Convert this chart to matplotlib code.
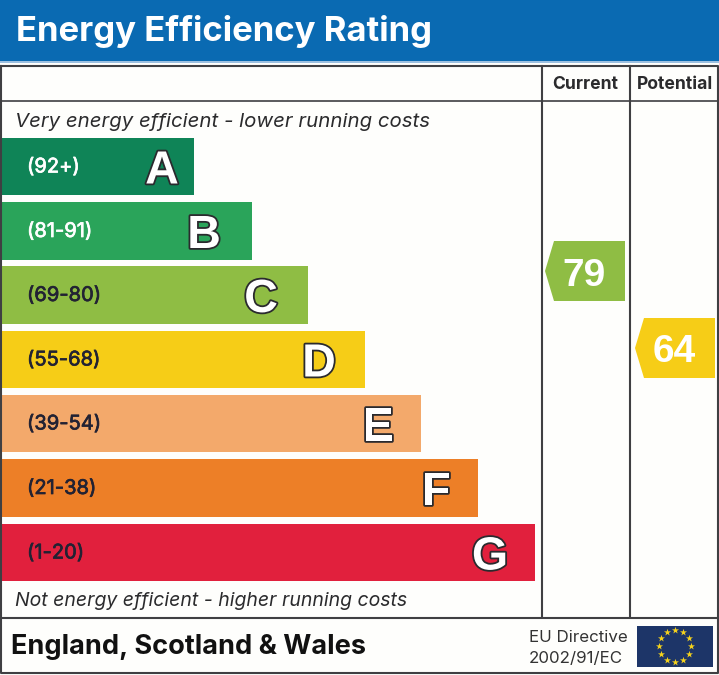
import numpy as np
import matplotlib
matplotlib.use("Agg")
import matplotlib.pyplot as plt
import matplotlib.patheffects as pe
from matplotlib.patches import Rectangle, Polygon

plt.rcParams['font.family'] = ['Liberation Sans', 'DejaVu Sans']
WIDE = ['Inter', 'Liberation Sans']

bands = ["A", "B", "C", "D", "E", "F", "G"]
ranges = ["(92+)", "(81-91)", "(69-80)", "(55-68)", "(39-54)", "(21-38)", "(1-20)"]
bar_right = [194, 252, 308, 365, 421, 478, 535]
bar_top = [138, 202, 266, 331, 395, 459, 524]
bar_bottom = [195, 260, 324, 388, 452, 517, 581]
colors = ["#0f8457", "#2aa45a", "#8fbd44", "#f6cd17", "#f3a96b", "#ed7f27", "#e1203d"]
range_colors = ["white", "white", "#222233", "#222233", "#222233", "#222233", "#222233"]
letter_inset = [32, 48, 47, 46, 43, 42, 45]
current = 79
potential = 64
line_col = "#3f3f42"

fig = plt.figure(figsize=(7.19, 6.75), dpi=100, facecolor="#fefefc")
ax = fig.add_axes([0, 0, 1, 1])
ax.set_xlim(0, 719)
ax.set_ylim(675, 0)
ax.axis("off")

# header band
ax.add_patch(Rectangle((0, 0), 719, 61, fc="#0a6ab2", ec="none"))
ax.add_patch(Rectangle((0, 61), 719, 2, fc="#9cc0e0", ec="none"))
ax.text(16, 41, "Energy Efficiency Rating", color="white", fontsize=25, fontweight="bold",
        va="baseline", ha="left", family=WIDE)

# frame
ax.plot([1, 718, 718, 1, 1], [66, 66, 673, 673, 66], color=line_col, lw=1.5)
ax.plot([1, 718], [101, 101], color=line_col, lw=1.2)
ax.plot([1, 718], [617.5, 617.5], color=line_col, lw=1.5)
ax.plot([542, 542], [66, 617], color=line_col, lw=1.5)
ax.plot([630, 630], [66, 617], color=line_col, lw=1.5)

ax.text(585, 89, "Current", color="#2b2b2d", fontsize=12.6, fontweight="bold", ha="center",
        va="baseline", family=WIDE)
ax.text(674.5, 89, "Potential", color="#2b2b2d", fontsize=12.6, fontweight="bold", ha="center",
        va="baseline", family=WIDE)
ax.text(15, 127, "Very energy efficient - lower running costs", color="#2b2b2d", fontsize=14.7,
        style="italic", va="baseline", family=WIDE)
ax.text(15, 606, "Not energy efficient - higher running costs", color="#2b2b2d", fontsize=14,
        style="italic", va="baseline", family=WIDE)

# bands
for i in range(len(bands)):
    top, bot, right = bar_top[i], bar_bottom[i], bar_right[i]
    ax.add_patch(Rectangle((2, top), right - 2, bot - top, fc=colors[i], ec="none"))
    mid = (top + bot) / 2
    r = ax.text(27, mid + 6, ranges[i], color=range_colors[i], fontsize=14.5, va="baseline", ha="left",
                family=WIDE)
    r.set_path_effects([pe.withStroke(linewidth=0.5, foreground=range_colors[i])])
    t = ax.text(right - letter_inset[i], mid + 17, bands[i], color="white", fontsize=33.5,
                fontweight="bold", va="baseline", ha="center")
    t.set_path_effects([pe.withStroke(linewidth=2.6, foreground="#2a2a2e")])


def tag(x0, x1, y0, y1, color, value):
    midy = (y0 + y1) / 2
    ax.add_patch(Polygon([(x0, midy), (x0 + 9, y0), (x1, y0), (x1, y1), (x0 + 9, y1)],
                         closed=True, fc=color, ec="none"))
    ax.text((x0 + x1) / 2 - 0.5, midy + 14.5, str(value), color="white", fontsize=28, fontweight="bold",
            ha="center", va="baseline")


tag(545, 625, 241, 301, colors[2], current)
tag(635, 715, 318, 378, colors[3], potential)

# footer
ax.text(11, 654, "England, Scotland & Wales", color="#111111", fontsize=19.5, fontweight="bold",
        va="baseline", family=WIDE)
ax.text(529, 642, "EU Directive", color="#333333", fontsize=12.2, va="baseline", family=WIDE)
ax.text(529, 663, "2002/91/EC", color="#333333", fontsize=12.2, va="baseline", family=WIDE)

# EU flag
ax.add_patch(Rectangle((637, 626), 75.5, 41, fc="#1d3568", ec="none"))
ang = np.arange(12) * np.pi / 6
ax.scatter(675 + 16 * np.sin(ang), 646 - 16 * np.cos(ang), marker="*", s=28, color="#f6d31c",
           linewidths=0, zorder=3)

fig.savefig("out.png", dpi=100, facecolor=fig.get_facecolor())
